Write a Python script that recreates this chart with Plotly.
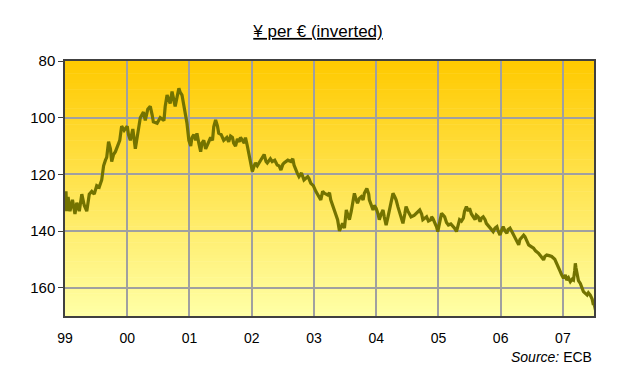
import plotly.graph_objects as go

# Decimal year positions and EUR/JPY values
years = [
    1999.016, 1999.027, 1999.05, 1999.08, 1999.12, 1999.16, 1999.19, 1999.23, 1999.27, 1999.31,
    1999.35, 1999.39, 1999.43, 1999.47, 1999.51, 1999.55, 1999.59, 1999.62, 1999.65, 1999.67,
    1999.70, 1999.73, 1999.75, 1999.78, 1999.81, 1999.84, 1999.88, 1999.91, 1999.95, 2000.0,
    2000.02, 2000.05, 2000.09, 2000.13, 2000.17, 2000.21, 2000.26, 2000.29, 2000.33, 2000.37,
    2000.40, 2000.42, 2000.48, 2000.53, 2000.59, 2000.61, 2000.64, 2000.69, 2000.72, 2000.77,
    2000.83, 2000.85, 2000.88, 2000.91, 2000.94, 2000.96, 2000.99, 2001.02, 2001.04, 2001.07,
    2001.10, 2001.12, 2001.15, 2001.18, 2001.20, 2001.23, 2001.26, 2001.29, 2001.31, 2001.34,
    2001.37, 2001.39, 2001.42, 2001.45, 2001.47, 2001.51, 2001.55, 2001.60, 2001.63, 2001.66,
    2001.69, 2001.71, 2001.74, 2001.77, 2001.80, 2001.82, 2001.88, 2001.90, 2001.93, 2001.96,
    2001.98, 2002.01, 2002.04, 2002.06, 2002.09, 2002.15, 2002.17, 2002.20, 2002.23, 2002.25,
    2002.30, 2002.33, 2002.37, 2002.41, 2002.44, 2002.47, 2002.50, 2002.52, 2002.58, 2002.63,
    2002.66, 2002.68, 2002.73, 2002.76, 2002.80, 2002.84, 2002.90, 2002.92, 2002.95, 2002.99,
    2003.03, 2003.07, 2003.11, 2003.14, 2003.17, 2003.22, 2003.25, 2003.27, 2003.30, 2003.33,
    2003.35, 2003.38, 2003.41, 2003.44, 2003.46, 2003.49, 2003.52, 2003.54, 2003.57, 2003.60,
    2003.62, 2003.65, 2003.68, 2003.70, 2003.73, 2003.76, 2003.79, 2003.81, 2003.85, 2003.88,
    2003.89, 2003.92, 2003.95, 2003.97, 2004.0, 2004.03, 2004.05, 2004.08, 2004.11, 2004.13,
    2004.16, 2004.19, 2004.21, 2004.24, 2004.27, 2004.30, 2004.32, 2004.35, 2004.38, 2004.40,
    2004.43, 2004.46, 2004.48, 2004.51, 2004.56, 2004.61, 2004.65, 2004.70, 2004.73, 2004.75,
    2004.81, 2004.84, 2004.88, 2004.89, 2004.91, 2004.94, 2004.97, 2004.99, 2005.02, 2005.05,
    2005.08, 2005.10, 2005.13, 2005.16, 2005.20, 2005.24, 2005.26, 2005.29, 2005.32, 2005.34,
    2005.37, 2005.40, 2005.42, 2005.45, 2005.48, 2005.50, 2005.53, 2005.56, 2005.59, 2005.61,
    2005.64, 2005.67, 2005.69, 2005.72, 2005.75, 2005.77, 2005.80, 2005.83, 2005.85, 2005.88,
    2005.91, 2005.94, 2005.96, 2005.99, 2006.02, 2006.04, 2006.07, 2006.10, 2006.12, 2006.15,
    2006.18, 2006.23, 2006.26, 2006.29, 2006.31, 2006.34, 2006.37, 2006.39, 2006.42, 2006.45,
    2006.49, 2006.53, 2006.56, 2006.61, 2006.65, 2006.69, 2006.71, 2006.74, 2006.78, 2006.82,
    2006.87, 2006.90, 2006.93, 2006.96, 2006.98, 2007.01, 2007.04, 2007.06, 2007.09, 2007.12,
    2007.15, 2007.17, 2007.19, 2007.20, 2007.21, 2007.23, 2007.25, 2007.28, 2007.31, 2007.33,
    2007.36, 2007.39, 2007.41, 2007.44, 2007.47, 2007.49, 2007.50, 2007.53,
]

yen_per_euro = [
    126, 133, 128, 133, 129, 134, 130, 133, 127, 131,
    133, 127, 126, 127, 124, 124.5, 122, 117, 115, 114,
    108.5, 111, 115.5, 113, 112, 110, 108, 103, 104.5, 103,
    106, 108, 104, 111, 106, 100, 98, 101, 97, 96,
    99, 101.5, 102, 100, 101, 96, 92, 95, 90.8, 96,
    89.6, 91, 92, 96, 99.6, 102, 108, 110, 107, 106,
    108, 105.5, 109, 112, 109, 108, 111, 109.6, 109, 107,
    108, 103.2, 100.8, 103, 105.5, 106, 108, 107, 108.5, 106.5,
    107, 109, 110, 107.5, 108.5, 107, 109, 107, 110, 114,
    116, 119, 117, 116, 117, 115, 114, 113, 115.5, 116,
    114.5, 115.5, 115, 116.7, 117, 118.5, 116.5, 116, 115, 115.5,
    114.5, 116.7, 119.5, 120.8, 119.5, 122, 120.8, 121.5, 123.2, 124,
    126, 127.5, 129, 126, 126.7, 127.3, 126.5, 129, 131, 132.6,
    134, 136, 140, 138.5, 137.3, 139, 132.6, 134, 136, 133,
    130, 126.7, 129, 130.2, 128.5, 127.9, 129, 126.7, 125, 127,
    129, 131, 132.6, 131, 132, 134, 136, 134, 132.6, 135,
    137.9, 135, 132.6, 129, 126.7, 128, 129, 131.5, 133.8, 135.5,
    137.3, 134, 131.4, 133, 135, 134.5, 133.8, 132.6, 134, 136,
    135, 136.5, 136, 135, 135.5, 137, 138.5, 140.2, 136.5, 133.8,
    134.5, 135, 137, 137.9, 137.5, 138.5, 139, 140.2, 137.5, 136,
    136.5, 135.5, 133, 131.4, 133, 132, 134, 135, 136, 134.4,
    135, 136.7, 135.5, 135, 136, 137.3, 138, 139, 139.5, 140.2,
    139, 138.5, 140, 141.4, 139.5, 138.5, 140, 140.8, 139.5, 139,
    140.2, 142.6, 143.5, 144.9, 143, 142, 141.5, 142, 143.5, 144.9,
    145.5, 146.1, 147, 147.9, 149, 150.2, 149, 148.5, 148.7, 149,
    150, 151.4, 152.5, 154.4, 155.5, 156.7, 155.5, 157.3, 156.5, 157.9,
    157, 157.3, 154, 151.4, 153, 156.1, 157.5, 158.5, 160, 161.4,
    162, 162.6, 161.8, 162.6, 164, 166.1, 165.5, 168.5,
]

tick_years = [1999, 2000, 2001, 2002, 2003, 2004, 2005, 2006, 2007]
tick_labels = ["99", "00", "01", "02", "03", "04", "05", "06", "07"]
y_ticks = [80, 100, 120, 140, 160]

fig = go.Figure()
fig.add_trace(go.Scatter(
    x=years, y=yen_per_euro, mode="lines",
    line=dict(color="#737300", width=3.2),
    hoverinfo="skip", showlegend=False,
))

# vertical gradient background of the plot area
n = 80
top = (255, 202, 0)
bot = (255, 255, 165)
shapes = []
for i in range(n):
    t = i / (n - 1)
    r = round(top[0] + (bot[0] - top[0]) * t)
    g = round(top[1] + (bot[1] - top[1]) * t)
    b = round(top[2] + (bot[2] - top[2]) * t)
    shapes.append(dict(
        type="rect", xref="x domain", yref="y domain",
        x0=0, x1=1, y0=1 - (i + 1) / n, y1=1 - i / n + 0.002,
        fillcolor=f"rgb({r},{g},{b})", line=dict(width=0), layer="below",
    ))

# page body has an 8px margin, so the figure is sized/offset to compensate
W, H = 612, 377
fig.update_layout(
    width=W, height=H,
    margin=dict(l=57, r=26, t=53, b=69),
    paper_bgcolor="white",
    plot_bgcolor="rgba(0,0,0,0)",
    font=dict(family="Liberation Sans, Arial, sans-serif", color="#000000", size=14),
    title=dict(
        text="<u>¥ per € (inverted)</u>",
        x=310 / W, xref="container", xanchor="center",
        y=1 - 23 / H, yref="container", yanchor="middle",
        font=dict(size=17, color="#000000"),
    ),
    shapes=shapes,
    xaxis=dict(
        range=[1999, 2007.5],
        tickvals=tick_years, ticktext=tick_labels,
        showgrid=True, gridcolor="#a0a0a0", gridwidth=1.5,
        showline=True, linecolor="#404040", linewidth=1.5, mirror=True,
        ticks="", zeroline=False, ticklabelstandoff=8,
        tickfont=dict(size=14),
    ),
    yaxis=dict(
        range=[170, 80],
        tickvals=y_ticks,
        showgrid=True, gridcolor="#a0a0a0", gridwidth=1.5,
        showline=True, linecolor="#404040", linewidth=1.5, mirror=True,
        ticks="outside", ticklen=5, tickcolor="#404040",
        zeroline=False,
        tickfont=dict(size=15),
    ),
    annotations=[dict(
        text="<i>Source:</i> ECB", xref="paper", yref="paper",
        x=1.0, y=(316 - 357) / 255, xanchor="right", yanchor="middle",
        showarrow=False, font=dict(size=14),
    )],
)

fig.write_html("out.html")
